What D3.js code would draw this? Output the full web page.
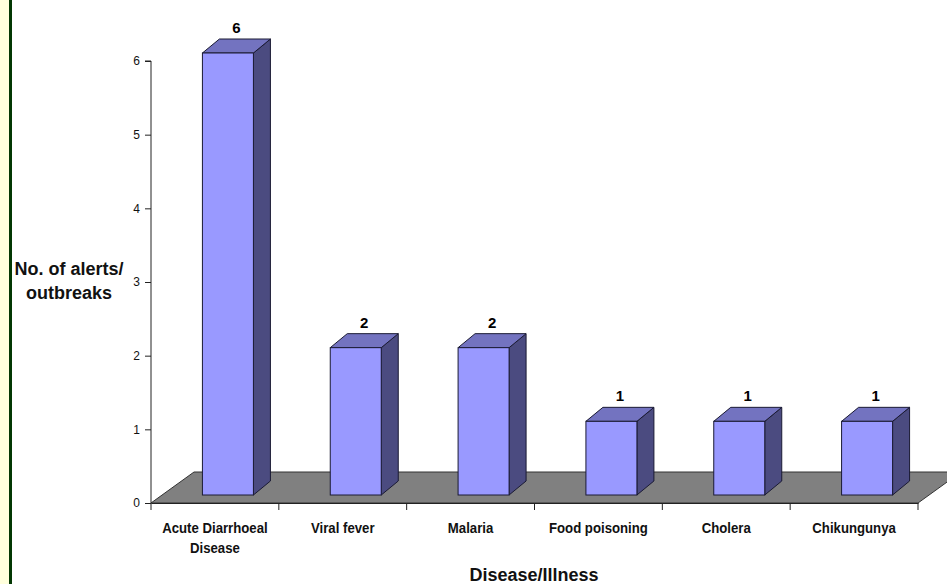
<!DOCTYPE html>
<html>
<head>
<meta charset="utf-8">
<script src="https://cdn.jsdelivr.net/npm/d3@7"></script>
<style>
  body { margin: 0; background: #fff; }
  svg { display: block; }
</style>
</head>
<body>
<div id="chart"></div>
<script>
// disease / illness categories and alert counts
var categories = [["Acute Diarrhoeal", "Disease"], ["Viral fever"], ["Malaria"], ["Food poisoning"], ["Cholera"], ["Chikungunya"]];
var alertCounts = [6, 2, 2, 1, 1, 1];
var yTicks = [0, 1, 2, 3, 4, 5, 6];

var width = 947, height = 584;
var svg = d3.select("#chart").append("svg")
	.attr("width", width)
	.attr("height", height);

// page border strip on the left
svg.append("rect").attr("x", 0).attr("y", 0).attr("width", 9).attr("height", height).attr("fill", "#ffffdc");
svg.append("rect").attr("x", 9).attr("y", 0).attr("width", 3).attr("height", height).attr("fill", "#033803");

var keys = categories.map(function(d) { return d.join(" "); });
var xScale = d3.scaleBand().domain(keys).range([151, 918]).padding(0);
var yScale = d3.scaleLinear().domain([0, 6]).range([503, 61]);

var floorDepth = { dx: 43, dy: -31 };
var barShift = { dx: 13, dy: -8 };
var barDepth = { dx: 17, dy: -14 };
var barW = 51;

// floor
var x0 = xScale.range()[0], x1 = xScale.range()[1], y0 = yScale(0);
svg.append("path")
	.attr("d", "M" + x0 + "," + y0 + "L" + (x0 + floorDepth.dx) + "," + (y0 + floorDepth.dy) +
		"L" + (x1 + floorDepth.dx) + "," + (y0 + floorDepth.dy) + "L" + x1 + "," + y0 + "Z")
	.attr("fill", "#808080")
	.attr("stroke", "#333")
	.attr("stroke-width", 1);

// y axis
var yAxis = d3.axisLeft(yScale).tickValues(yTicks).tickFormat(d3.format("d")).tickSize(6).tickPadding(5);
var gy = svg.append("g").attr("transform", "translate(151,0)").call(yAxis);
gy.select(".domain").attr("stroke", "#222").attr("d", "M-6," + yScale(6) + "H0V" + y0);
gy.selectAll("line").attr("stroke", "#222");
gy.selectAll("text").attr("font-family", "Liberation Sans, Arial, sans-serif").attr("font-size", 12).attr("fill", "#111");

// x axis ticks on floor front edge
var xAxis = d3.axisBottom(xScale).tickSize(0).tickFormat("");
var gx = svg.append("g").attr("transform", "translate(0," + y0 + ")").call(xAxis);
gx.select(".domain").attr("stroke", "#222");
var bounds = keys.map(function(k) { return xScale(k); }).concat([x1]);
gx.selectAll(".bound").data(bounds).enter().append("line")
	.attr("x1", function(d) { return d; }).attr("x2", function(d) { return d; })
	.attr("y1", 0).attr("y2", 7).attr("stroke", "#222");

// bars
var bars = svg.append("g").selectAll("g").data(alertCounts).enter().append("g");
function frontLeft(i) { return xScale(keys[i]) + xScale.bandwidth() / 2 - barW / 2 + barShift.dx; }
function pts(arr) { return arr.map(function(p) { return p.join(","); }).join(" "); }

bars.each(function(v, i) {
	var g = d3.select(this);
	var l = frontLeft(i), r = l + barW;
	var t = yScale(v) + barShift.dy, b = yScale(0) + barShift.dy;
	var dx = barDepth.dx, dy = barDepth.dy;
	g.append("polygon").attr("points", pts([[r, t], [r + dx, t + dy], [r + dx, b + dy], [r, b]]))
		.attr("fill", "#4b4b80").attr("stroke", "#1a1a33").attr("stroke-width", 1);
	g.append("polygon").attr("points", pts([[l, t], [l + dx, t + dy], [r + dx, t + dy], [r, t]]))
		.attr("fill", "#7373c0").attr("stroke", "#1a1a33").attr("stroke-width", 1);
	g.append("rect").attr("x", l).attr("y", t).attr("width", barW).attr("height", b - t)
		.attr("fill", "#9999ff").attr("stroke", "#1a1a33").attr("stroke-width", 1);
	g.append("text")
		.attr("x", l + barW / 2 + dx / 2)
		.attr("y", t - 20)
		.attr("text-anchor", "middle")
		.attr("font-family", "Liberation Sans, Arial, sans-serif")
		.attr("font-weight", "bold")
		.attr("font-size", 15)
		.text(v);
});

// category labels (slightly condensed like the original)
var catLabels = svg.append("g").selectAll("text").data(categories).enter().append("text")
	.attr("transform", function(d, i) { return "translate(" + (xScale(keys[i]) + xScale.bandwidth() / 2) + ",533) scale(0.88,1)"; })
	.attr("text-anchor", "middle")
	.attr("font-family", "Liberation Sans, Arial, sans-serif")
	.attr("font-weight", "bold")
	.attr("font-size", 15)
	.attr("fill", "#111");
catLabels.selectAll("tspan").data(function(d) { return d; }).enter().append("tspan")
	.attr("x", 0)
	.attr("dy", function(d, j) { return j === 0 ? 0 : 20; })
	.text(function(d) { return d; });

// axis titles
var yTitle = svg.append("text")
	.attr("x", 69).attr("y", 275)
	.attr("text-anchor", "middle")
	.attr("font-family", "Liberation Sans, Arial, sans-serif")
	.attr("font-weight", "bold")
	.attr("font-size", 18)
	.attr("fill", "#111");
yTitle.append("tspan").attr("x", 69).attr("dy", 0).text("No. of alerts/");
yTitle.append("tspan").attr("x", 69).attr("dy", 24).text("outbreaks");

svg.append("text")
	.attr("x", 534).attr("y", 581)
	.attr("text-anchor", "middle")
	.attr("font-family", "Liberation Sans, Arial, sans-serif")
	.attr("font-weight", "bold")
	.attr("font-size", 18)
	.attr("fill", "#111")
	.text("Disease/Illness");
</script>
</body>
</html>
